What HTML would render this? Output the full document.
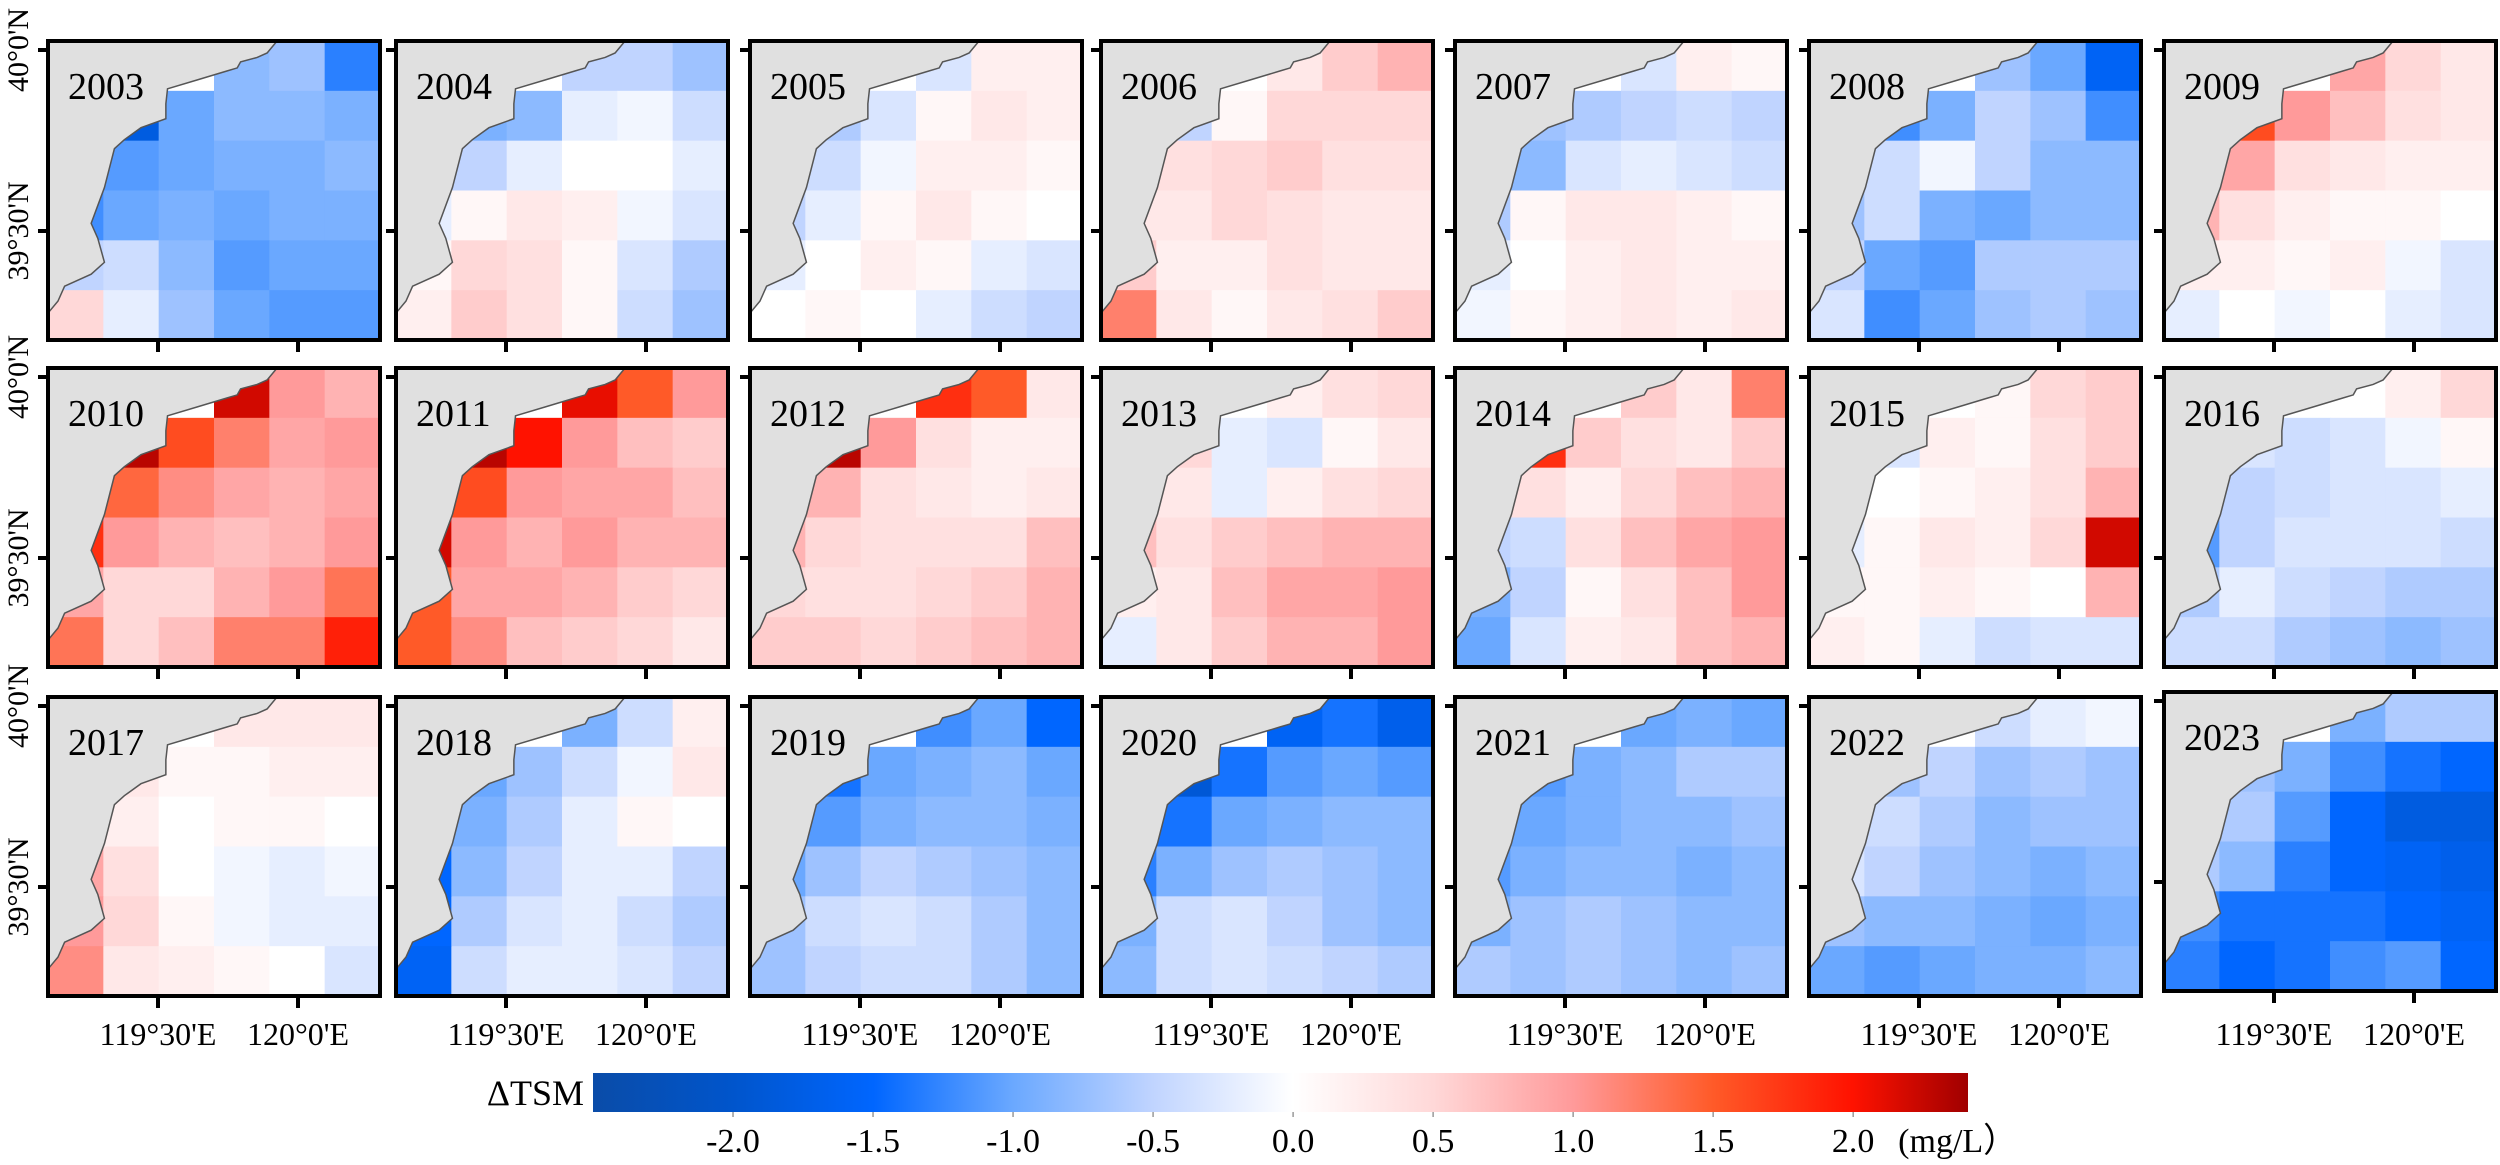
<!DOCTYPE html>
<html><head><meta charset="utf-8"><style>
html,body{margin:0;padding:0;background:#fff;}
svg{display:block;font-family:"Liberation Serif",serif;}
</style></head><body>
<svg id="fig" xmlns="http://www.w3.org/2000/svg" width="2500" height="1165" viewBox="0 0 2500 1165">
<defs>
<linearGradient id="cbgrad" x1="0" x2="1" y1="0" y2="0">
<stop offset="0" stop-color="#0a4ca8"/>
<stop offset="0.102" stop-color="#0055cc"/>
<stop offset="0.204" stop-color="#0066ff"/>
<stop offset="0.305" stop-color="#6aa8ff"/>
<stop offset="0.407" stop-color="#c0d4ff"/>
<stop offset="0.509" stop-color="#ffffff"/>
<stop offset="0.611" stop-color="#ffd8d8"/>
<stop offset="0.713" stop-color="#ff9a9a"/>
<stop offset="0.815" stop-color="#ff5a28"/>
<stop offset="0.916" stop-color="#ff1200"/>
<stop offset="1" stop-color="#a00000"/>
</linearGradient>
</defs>
<g id="panels"></g>
<g id="colorbar"></g>
</svg>
<script>
const years = [2003,2004,2005,2006,2007,2008,2009,2010,2011,2012,2013,2014,2015,2016,2017,2018,2019,2020,2021,2022,2023];
const latTicks = ["40°0'N","39°30'N"];
const lonTicks = ["119°30'E","120°0'E"];
const cbTicks = [-2.0,-1.5,-1.0,-0.5,0.0,0.5,1.0,1.5,2.0];
// 6x6 grids of ΔTSM (mg/L), rows top->bottom
const d2003=[[0,0,0,-0.8,-0.7,-1.3],[0,-1.8,-1.0,-0.8,-0.8,-0.9],[-1.6,-1.1,-1.0,-0.9,-0.9,-0.8],[-1.2,-1.0,-0.9,-1.0,-0.9,-0.9],[-0.5,-0.4,-0.8,-1.1,-1.0,-1.0],[0.5,-0.2,-0.7,-1.0,-1.1,-1.1]];
const d2004=[[0,0,0,-0.5,-0.5,-0.7],[0,-0.9,-0.8,-0.2,-0.1,-0.4],[-0.4,-0.5,-0.2,0,0,-0.2],[-0.2,0.1,0.3,0.2,-0.1,-0.3],[0.1,0.5,0.4,0.1,-0.3,-0.6],[0.2,0.6,0.4,0.1,-0.4,-0.7]];
const d2005=[[0,0,0,-0.3,0.2,0.2],[0,-0.6,-0.3,0.1,0.3,0.2],[-0.8,-0.4,-0.1,0.2,0.2,0.1],[-0.5,-0.2,0.1,0.3,0.1,0],[-0.2,0,0.2,0.1,-0.2,-0.3],[0,0.1,0,-0.2,-0.4,-0.5]];
const d2006=[[0,0,0,0.3,0.6,0.8],[0,-0.5,0.1,0.5,0.5,0.5],[0.3,0.4,0.5,0.6,0.4,0.4],[0.3,0.3,0.5,0.4,0.3,0.3],[0.6,0.2,0.2,0.4,0.3,0.3],[1.2,0.3,0.1,0.3,0.4,0.6]];
const d2007=[[0,0,0,-0.3,0.2,0.1],[0,-0.7,-0.6,-0.5,-0.4,-0.5],[-1.4,-0.8,-0.3,-0.2,-0.3,-0.4],[-0.6,0.1,0.3,0.3,0.2,0.1],[-0.2,0,0.2,0.3,0.2,0.2],[-0.1,0.1,0.2,0.3,0.2,0.3]];
const d2008=[[0,0,0,-0.7,-1.0,-1.6],[0,-1.2,-0.9,-0.5,-0.7,-1.2],[-1.6,-0.4,-0.1,-0.5,-0.8,-0.8],[-0.7,-0.4,-0.9,-1.0,-0.8,-0.8],[-0.5,-1.0,-1.1,-0.6,-0.6,-0.6],[-0.3,-1.2,-1.0,-0.7,-0.6,-0.7]];
const d2009=[[0,0,0,0.9,0.5,0.3],[0,1.6,1.0,0.7,0.4,0.3],[1.5,0.9,0.4,0.3,0.2,0.2],[0.8,0.4,0.2,0.1,0.1,0],[0.2,0.2,0.1,0.2,-0.1,-0.3],[-0.2,0,-0.1,0,-0.2,-0.3]];
const d2010=[[0,0,0,2.2,1.0,0.8],[0,2.3,1.6,1.2,0.9,1.0],[2.3,1.4,1.1,0.9,0.8,0.9],[1.8,1.0,0.8,0.7,0.8,1.0],[0.9,0.5,0.5,0.8,1.0,1.3],[1.3,0.5,0.7,1.2,1.2,1.9]];
const d2011=[[0,0,0,2.1,1.5,1.0],[0,2.3,2.0,1.0,0.7,0.6],[2.3,1.6,1.0,0.9,0.9,0.7],[2.2,1.0,0.8,1.0,0.8,0.8],[1.5,0.9,0.9,0.8,0.6,0.5],[1.5,1.1,0.7,0.6,0.5,0.3]];
const d2012=[[0,0,0,1.8,1.5,0.3],[0,2.3,1.0,0.4,0.2,0.2],[2.2,0.8,0.4,0.3,0.2,0.3],[0.8,0.5,0.4,0.4,0.4,0.7],[0.5,0.4,0.4,0.5,0.6,0.8],[0.6,0.6,0.5,0.6,0.7,0.8]];
const d2013=[[0,0,0,0.2,0.4,0.5],[0,0.5,-0.2,-0.3,0.1,0.3],[0.8,0.3,-0.2,0.2,0.4,0.5],[0.7,0.4,0.6,0.7,0.8,0.8],[0.2,0.3,0.7,0.9,0.9,1.0],[-0.2,0.3,0.6,0.8,0.8,1.0]];
const d2014=[[0,0,0,0.6,0.3,1.2],[0,1.8,0.6,0.4,0.3,0.6],[0.8,0.4,0.2,0.5,0.7,0.8],[-0.5,-0.4,0.4,0.7,0.9,1.0],[-0.9,-0.5,0.1,0.4,0.7,1.0],[-1.0,-0.3,0.2,0.3,0.7,0.8]];
const d2015=[[0,0,0,0.1,0.5,0.6],[0,-0.3,0.2,0.1,0.4,0.6],[-0.3,0,0.1,0.2,0.4,0.8],[-0.2,0.1,0.3,0.2,0.5,2.2],[0.1,0.1,0.2,0.1,0,0.8],[0.2,0.1,-0.2,-0.4,-0.3,-0.3]];
const d2016=[[0,0,0,0,0.2,0.5],[0,-0.3,-0.4,-0.3,-0.1,0.1],[-0.7,-0.5,-0.4,-0.3,-0.3,-0.2],[-1.1,-0.5,-0.3,-0.3,-0.3,-0.4],[-0.6,-0.2,-0.4,-0.5,-0.6,-0.6],[-0.4,-0.4,-0.6,-0.7,-0.8,-0.7]];
const d2017=[[0,0,0,0.3,0.3,0.3],[0,0.3,0.1,0.1,0.2,0.2],[0.5,0.2,0,0.1,0.1,0],[0.9,0.4,0,-0.1,-0.2,-0.1],[1.0,0.5,0.1,-0.1,-0.2,-0.2],[1.1,0.3,0.2,0.1,0,-0.3]];
const d2018=[[0,0,0,-0.9,-0.4,0.2],[0,-1.0,-0.7,-0.4,-0.1,0.3],[-1.5,-0.9,-0.6,-0.2,0.1,0],[-1.5,-0.8,-0.5,-0.2,-0.2,-0.5],[-1.5,-0.6,-0.3,-0.2,-0.4,-0.6],[-1.6,-0.4,-0.2,-0.2,-0.3,-0.5]];
const d2019=[[0,0,0,-1.2,-1.0,-1.5],[0,-1.4,-1.0,-0.9,-0.8,-1.0],[-1.6,-1.1,-0.9,-0.8,-0.8,-0.9],[-1.0,-0.7,-0.5,-0.6,-0.7,-0.8],[-0.7,-0.4,-0.3,-0.4,-0.6,-0.8],[-0.7,-0.5,-0.4,-0.4,-0.6,-0.8]];
const d2020=[[0,0,0,-1.6,-1.4,-1.7],[0,-1.9,-1.4,-1.1,-1.0,-1.1],[-2.0,-1.4,-1.0,-0.9,-0.8,-0.8],[-1.3,-0.9,-0.7,-0.6,-0.7,-0.8],[-0.9,-0.4,-0.3,-0.5,-0.7,-0.8],[-0.8,-0.4,-0.3,-0.4,-0.5,-0.6]];
const d2021=[[0,0,0,-1.0,-0.9,-1.0],[0,-1.1,-0.9,-0.8,-0.6,-0.6],[-1.3,-1.0,-0.9,-0.8,-0.8,-0.7],[-1.1,-0.9,-0.8,-0.8,-0.9,-0.8],[-0.9,-0.7,-0.6,-0.7,-0.8,-0.8],[-0.6,-0.7,-0.6,-0.7,-0.8,-0.7]];
const d2022=[[0,0,0,-0.4,-0.2,-0.1],[0,-0.7,-0.5,-0.7,-0.6,-0.7],[-0.6,-0.4,-0.6,-0.8,-0.7,-0.7],[-0.3,-0.5,-0.7,-0.8,-0.9,-0.8],[-0.7,-0.8,-0.8,-0.9,-1.0,-0.9],[-1.0,-1.1,-1.0,-0.9,-0.9,-0.8]];
const d2023=[[0,0,0,-0.9,-0.6,-0.6],[0,-0.7,-0.9,-1.2,-1.4,-1.5],[-0.2,-0.6,-1.1,-1.5,-1.8,-1.8],[-0.6,-0.8,-1.3,-1.5,-1.6,-1.7],[-1.2,-1.4,-1.4,-1.4,-1.5,-1.6],[-1.3,-1.5,-1.4,-1.2,-1.1,-1.5]];
const grids=[d2003,d2004,d2005,d2006,d2007,d2008,d2009,d2010,d2011,d2012,d2013,d2014,d2015,d2016,d2017,d2018,d2019,d2020,d2021,d2022,d2023];

const NS='http://www.w3.org/2000/svg';
function mk(tag,attrs,parent){const e=document.createElementNS(NS,tag);for(const k in attrs)e.setAttribute(k,attrs[k]);parent.appendChild(e);return e;}
const stops=[[-2.5,[10,76,168]],[-2.0,[0,85,204]],[-1.5,[0,102,255]],[-1.0,[106,168,255]],[-0.5,[192,212,255]],[0,[255,255,255]],[0.5,[255,216,216]],[1.0,[255,154,154]],[1.5,[255,90,40]],[2.0,[255,18,0]],[2.41,[160,0,0]]];
function color(v){if(v<=stops[0][0])return 'rgb('+stops[0][1]+')';for(let i=1;i<stops.length;i++){if(v<=stops[i][0]){const a=stops[i-1],b=stops[i];const t=(v-a[0])/(b[0]-a[0]);const c=a[1].map((x,k)=>Math.round(x+(b[1][k]-x)*t));return 'rgb('+c+')';}}return 'rgb('+stops[stops.length-1][1]+')';}

const colLeft=[48,396,750,1101,1455,1809,2164];
const rowTop=[41,368,697];
const PW=332, PH=299;
const coast=[[0.69,0],[0.66,0.04],[0.63,0.055],[0.58,0.07],[0.57,0.09],[0.54,0.10],[0.45,0.13],[0.36,0.16],[0.355,0.21],[0.355,0.26],[0.28,0.29],[0.23,0.33],[0.20,0.36],[0.17,0.49],[0.13,0.61],[0.15,0.66],[0.17,0.74],[0.13,0.78],[0.05,0.82],[0.03,0.87],[0,0.91]];
const root=document.getElementById('panels');

years.forEach((yr,idx)=>{
  const r=Math.floor(idx/7), c=idx%7;
  const x0=colLeft[c], y0=(yr===2023?692:rowTop[r]);
  const g=mk('g',{},root);
  
  
  const grid=grids[idx];
  const nr=grid.length, nc=grid[0].length;
  const cx=j=>x0+j*PW/nc, cy=i=>y0+i*PH/nr;
  grid.forEach((row,i)=>row.forEach((v,j)=>{
    const cell=mk('rect',{x:cx(j),y:cy(i),width:PW/nc+0.6,height:PH/nr+0.6,fill:color(v)},g);
    
    
  }));
  const pts=[[0,0]].concat(coast).map(p=>(x0+p[0]*PW)+','+(y0+p[1]*PH)).join(' ');
  const land=mk('polygon',{points:pts,fill:'#e0e0e0',stroke:'#555','stroke-width':1.5},g);
  
  
  const fr=mk('rect',{x:x0,y:y0,width:PW,height:PH,fill:'none',stroke:'#000','stroke-width':4},g);
  
  
  const t=mk('text',{x:x0+20,y:y0+58,'font-size':38,fill:'#000'},g);
  t.textContent=yr;
  
  
  [9,190].forEach(dy=>{mk('line',{x1:x0-10,x2:x0,y1:y0+dy,y2:y0+dy,stroke:'#000','stroke-width':4},g);});
  [110,250].forEach(dx=>{mk('line',{x1:x0+dx,x2:x0+dx,y1:y0+PH,y2:y0+PH+12,stroke:'#000','stroke-width':4},g);});
  if(r===2){
    [110,250].forEach((dx,k)=>{const l=mk('text',{x:x0+dx,y:1045,'font-size':32,'text-anchor':'middle'},g);l.textContent=lonTicks[k];
      
      });
  }
  if(c===0){
    [9,190].forEach((dy,k)=>{const l=mk('text',{x:0,y:0,'font-size':30,'text-anchor':'middle',transform:'translate(28,'+(y0+dy)+') rotate(-90)'},g);l.textContent=latTicks[k];
      
      });
  }
});

// colorbar
const cb=document.getElementById('colorbar');
const cbX0=593, cbX1=1968, vMin=-2.5, vMax=2.41;
const cbx=v=>cbX0+(v-vMin)/(vMax-vMin)*(cbX1-cbX0);
const bar=mk('rect',{x:cbX0,y:1073,width:cbX1-cbX0,height:39,fill:'url(#cbgrad)'},cb);


const tl=mk('text',{x:584,y:1105,'font-size':36,'text-anchor':'end'},cb);
tl.textContent='ΔTSM';


cbTicks.forEach(v=>{
  mk('line',{x1:cbx(v),x2:cbx(v),y1:1112,y2:1117,stroke:'#999','stroke-width':1.5},cb);
  const l=mk('text',{x:cbx(v),y:1152,'font-size':34,'text-anchor':'middle'},cb);
  l.textContent=v.toFixed(1);
  
  
});
const u=mk('text',{x:cbx(2.0)+45,y:1152,'font-size':34},cb);
u.textContent='(mg/L）';


</script>
</body></html>
